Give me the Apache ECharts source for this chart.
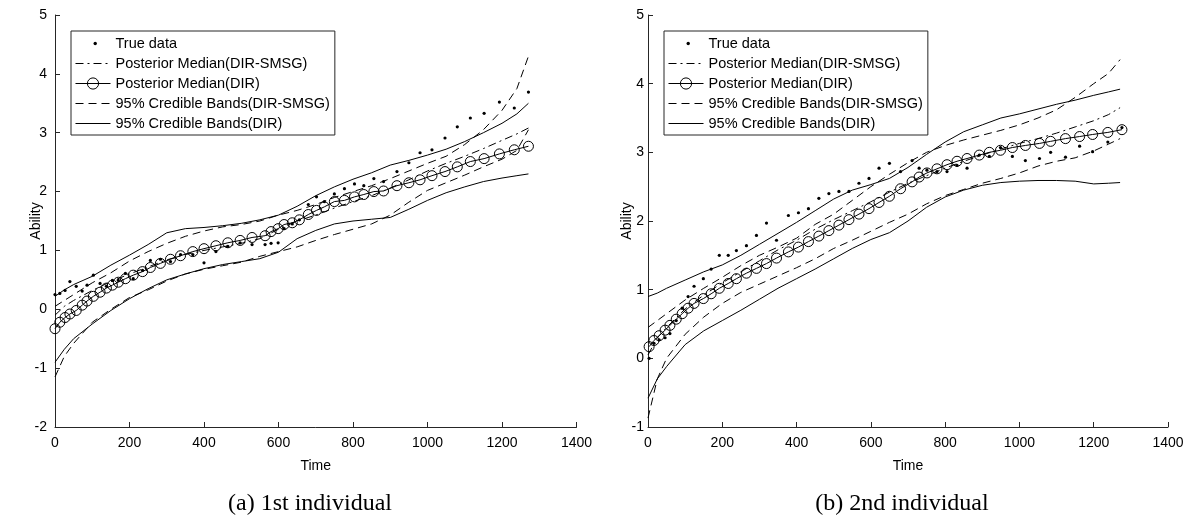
<!DOCTYPE html>
<html>
<head>
<meta charset="utf-8">
<script src="https://cdn.jsdelivr.net/npm/echarts@6/dist/echarts.min.js"></script>
<style>html,body{margin:0;padding:0;background:#fff}#c{width:1188px;height:522px}</style>
</head>
<body>
<div id="c"></div>
<script>
// ---------- Data: 1st individual ----------
const times1 = [0,13,27,40,57,73,86,103,121,138,154,170,189,210,235,256,283,310,337,370,400,432,464,497,529,564,580,599,615,637,656,680,702,723,750,777,804,829,856,882,918,950,980,1012,1047,1080,1115,1152,1193,1233,1271];
const trueData1 = [0.25,0.27,0.32,0.47,0.39,0.31,0.41,0.58,0.44,0.39,0.49,0.49,0.61,0.52,0.66,0.83,0.85,0.81,0.93,0.93,0.79,0.98,1.07,1.13,1.10,1.10,1.12,1.13,1.37,1.45,1.52,1.78,1.91,1.83,1.96,2.05,2.13,2.10,2.22,2.17,2.34,2.49,2.66,2.71,2.91,3.10,3.25,3.33,3.52,3.42,3.69];
const medDIR1 = [-0.33,-0.22,-0.14,-0.08,-0.02,0.07,0.14,0.22,0.29,0.36,0.41,0.46,0.52,0.58,0.64,0.71,0.78,0.85,0.91,0.98,1.03,1.08,1.13,1.17,1.22,1.25,1.32,1.37,1.44,1.47,1.52,1.61,1.68,1.74,1.83,1.85,1.91,1.95,2.00,2.01,2.10,2.15,2.20,2.27,2.34,2.42,2.51,2.56,2.64,2.71,2.77];
const bandTimes = [0,25,50,100,150,200,250,300,350,400,450,500,550,600,650,700,750,800,850,900,950,1000,1050,1100,1150,1200,1240,1271];
const medSMSG1 = [-0.10,0.05,0.15,0.32,0.47,0.60,0.72,0.84,0.93,1.00,1.06,1.12,1.20,1.36,1.50,1.60,1.72,1.83,1.93,2.06,2.20,2.35,2.48,2.60,2.73,2.87,2.98,3.08];
const upSMSG1 = [0.05,0.15,0.25,0.45,0.62,0.82,0.98,1.12,1.24,1.33,1.40,1.44,1.50,1.60,1.68,1.78,1.90,2.00,2.10,2.22,2.35,2.48,2.60,2.80,3.05,3.38,3.75,4.30];
const loSMSG1 = [-1.15,-0.80,-0.58,-0.22,0.00,0.20,0.33,0.48,0.60,0.68,0.74,0.80,0.90,0.98,1.06,1.17,1.27,1.36,1.45,1.60,1.82,2.02,2.15,2.28,2.42,2.55,2.70,3.05];
const upDIR1 = [0.22,0.33,0.42,0.56,0.75,0.92,1.10,1.30,1.37,1.39,1.42,1.46,1.52,1.60,1.75,1.93,2.08,2.21,2.32,2.45,2.53,2.62,2.72,2.85,3.00,3.16,3.32,3.50];
const loDIR1 = [-0.90,-0.68,-0.50,-0.25,-0.02,0.18,0.35,0.50,0.60,0.69,0.76,0.81,0.86,0.97,1.20,1.34,1.45,1.50,1.53,1.56,1.70,1.85,1.98,2.08,2.17,2.23,2.27,2.30];

// ---------- Data: 2nd individual ----------
const times2 = [3,16,30,46,59,76,92,108,124,149,170,192,216,238,265,292,319,346,378,405,432,460,487,514,541,568,595,622,650,680,711,730,751,778,805,832,859,892,919,949,981,1016,1054,1084,1124,1162,1197,1238,1276];
const trueData2 = [0.00,0.22,0.27,0.30,0.36,0.55,0.73,0.90,1.05,1.16,1.30,1.50,1.50,1.57,1.64,1.79,1.97,1.72,2.08,2.12,2.18,2.33,2.40,2.43,2.43,2.55,2.62,2.77,2.84,2.72,2.88,2.77,2.74,2.72,2.72,2.81,2.77,2.96,2.94,3.07,2.94,2.88,2.91,3.00,2.93,3.09,3.01,3.15,3.36];
const medDIR2 = [0.17,0.26,0.33,0.41,0.48,0.57,0.65,0.73,0.80,0.87,0.94,1.02,1.09,1.16,1.24,1.31,1.38,1.46,1.55,1.62,1.70,1.78,1.86,1.94,2.02,2.10,2.18,2.27,2.36,2.47,2.57,2.64,2.70,2.76,2.82,2.87,2.91,2.96,3.00,3.03,3.07,3.10,3.13,3.16,3.20,3.23,3.26,3.29,3.33];
const medSMSG2 = [0.05,0.30,0.45,0.72,0.92,1.10,1.26,1.42,1.58,1.72,1.88,2.02,2.15,2.28,2.42,2.55,2.66,2.77,2.87,2.96,3.05,3.13,3.20,3.28,3.37,3.46,3.55,3.65];
const upSMSG2 = [0.45,0.55,0.65,0.85,1.02,1.18,1.35,1.50,1.62,1.75,1.95,2.10,2.30,2.50,2.68,2.85,3.00,3.10,3.18,3.25,3.32,3.40,3.50,3.62,3.80,4.00,4.15,4.35];
const loSMSG2 = [-0.87,-0.30,0.00,0.35,0.60,0.80,0.96,1.08,1.20,1.32,1.45,1.60,1.72,1.85,1.98,2.10,2.25,2.37,2.46,2.55,2.62,2.70,2.80,2.87,2.92,3.02,3.12,3.20];
const upDIR2 = [0.90,0.95,1.02,1.14,1.26,1.36,1.50,1.66,1.82,1.98,2.15,2.32,2.45,2.53,2.62,2.78,2.97,3.15,3.30,3.40,3.50,3.56,3.63,3.70,3.76,3.83,3.88,3.92];
const loDIR2 = [-0.58,-0.30,-0.12,0.20,0.40,0.55,0.70,0.86,1.02,1.16,1.30,1.45,1.60,1.73,1.83,2.00,2.20,2.35,2.45,2.52,2.56,2.58,2.59,2.59,2.58,2.54,2.55,2.56];

// ---------- Axis ticks / labels ----------
const xTicks = {min: 0, max: 1400, interval: 200};
const yTicks1 = {min: -2, max: 5, interval: 1};
const yTicks2 = {min: -1, max: 5, interval: 1};
const names = ['True data','Posterior Median(DIR-SMSG)','Posterior Median(DIR)','95% Credible Bands(DIR-SMSG)','95% Credible Bands(DIR)'];
const captions = ['(a) 1st individual','(b) 2nd individual'];

function zip(t, v) { return t.map((x, i) => [x, v[i]]); }

const DASH = [8, 5];
const DASHDOT = [8, 4, 2, 4];
const FONT = 'Liberation Sans';

function seriesFor(idx, t, truth, medD, medS, upS, loS, upD, loD) {
  const base = {type: 'line', xAxisIndex: idx, yAxisIndex: idx, animation: false, silent: true};
  const solidBlack = {color: '#000', width: 1};
  return [
    Object.assign({}, base, {name: names[0], data: zip(t, truth), symbol: 'circle', symbolSize: 3.2, showAllSymbol: true,
      itemStyle: {color: '#000'}, lineStyle: {width: 0, opacity: 0}, z: 5}),
    Object.assign({}, base, {name: names[1], data: zip(bandTimes, medS), symbol: 'none',
      itemStyle: {color: '#000'}, lineStyle: {color: '#000', width: 1, type: DASHDOT}}),
    Object.assign({}, base, {name: names[2], data: zip(t, medD), symbol: 'circle', symbolSize: 10, showAllSymbol: true,
      itemStyle: {color: 'rgba(0,0,0,0)', borderColor: '#000', borderWidth: 1}, lineStyle: solidBlack}),
    Object.assign({}, base, {name: names[3], data: zip(bandTimes, upS), symbol: 'none',
      itemStyle: {color: '#000'}, lineStyle: {color: '#000', width: 1, type: DASH}}),
    Object.assign({}, base, {name: names[3], data: zip(bandTimes, loS), symbol: 'none',
      itemStyle: {color: '#000'}, lineStyle: {color: '#000', width: 1, type: DASH}}),
    Object.assign({}, base, {name: names[4], data: zip(bandTimes, upD), symbol: 'none',
      itemStyle: {color: '#000'}, lineStyle: solidBlack}),
    Object.assign({}, base, {name: names[4], data: zip(bandTimes, loD), symbol: 'none',
      itemStyle: {color: '#000'}, lineStyle: solidBlack})
  ];
}

function xAxisFor(idx) {
  return Object.assign({type: 'value', gridIndex: idx, name: 'Time', nameLocation: 'middle', nameGap: 32,
    nameMoveOverlap: false,
    nameTextStyle: {fontFamily: FONT, fontSize: 14, color: '#000'},
    axisLine: {show: true, onZero: false, lineStyle: {color: '#262626', width: 1}},
    axisTick: {show: true, inside: true, length: 5, lineStyle: {color: '#262626'}},
    axisLabel: {fontFamily: FONT, fontSize: 14, color: '#000', margin: 9, formatter: v => String(v)},
    splitLine: {show: false}}, xTicks);
}
function yAxisFor(idx, ticks, labelMargin, nameGap) {
  return Object.assign({type: 'value', gridIndex: idx, name: 'Ability', nameLocation: 'middle', nameGap: nameGap,
    nameMoveOverlap: false,
    nameTextStyle: {fontFamily: FONT, fontSize: 14, color: '#000'},
    axisLine: {show: true, onZero: false, lineStyle: {color: '#262626', width: 1}},
    axisTick: {show: true, inside: true, length: 5, lineStyle: {color: '#262626'}},
    axisLabel: {fontFamily: FONT, fontSize: 14, color: '#000', margin: labelMargin, formatter: v => String(v)},
    splitLine: {show: false}}, ticks);
}
function legendFor(left) {
  return {
    left: left, top: 31, orient: 'vertical', selectedMode: false,
    backgroundColor: '#fff', borderColor: '#262626', borderWidth: 1,
    padding: [5, 5, 4, 4], itemGap: 5, itemWidth: 35, itemHeight: 14,
    textStyle: {fontFamily: FONT, fontSize: 14.5, color: '#000'},
    lineStyle: {width: 1},
    data: [
      {name: names[0], icon: 'path://M0,0M35,14M18,7a1.7,1.7 0 1,0 3.4,0a1.7,1.7 0 1,0 -3.4,0'},
      {name: names[1], itemStyle: {opacity: 0}},
      {name: names[2], itemStyle: {borderWidth: 1, color: 'rgba(0,0,0,0)', borderColor: '#000'}},
      {name: names[3], itemStyle: {opacity: 0}},
      {name: names[4], itemStyle: {opacity: 0}}
    ]
  };
}

const chart = echarts.init(document.getElementById('c'), null, {renderer: 'canvas'});
chart.setOption({
  backgroundColor: '#fff',
  animation: false,
  title: [
    {text: captions[0], left: 305, top: 487, textAlign: 'center',
     textStyle: {fontFamily: 'Liberation Serif', fontSize: 24, fontWeight: 'normal', color: '#000'}},
    {text: captions[1], left: 897, top: 487, textAlign: 'center',
     textStyle: {fontFamily: 'Liberation Serif', fontSize: 24, fontWeight: 'normal', color: '#000'}}
  ],
  legend: [legendFor(71), legendFor(664)],
  grid: [
    {left: 55, top: 15, width: 521.5, height: 412},
    {left: 648, top: 15, width: 520, height: 412}
  ],
  xAxis: [xAxisFor(0), xAxisFor(1)],
  yAxis: [yAxisFor(0, yTicks1, 8, 12), yAxisFor(1, yTicks2, 4, 14)],
  series: [].concat(
    seriesFor(0, times1, trueData1, medDIR1, medSMSG1, upSMSG1, loSMSG1, upDIR1, loDIR1),
    seriesFor(1, times2, trueData2, medDIR2, medSMSG2, upSMSG2, loSMSG2, upDIR2, loDIR2)
  )
});
</script>
</body>
</html>
